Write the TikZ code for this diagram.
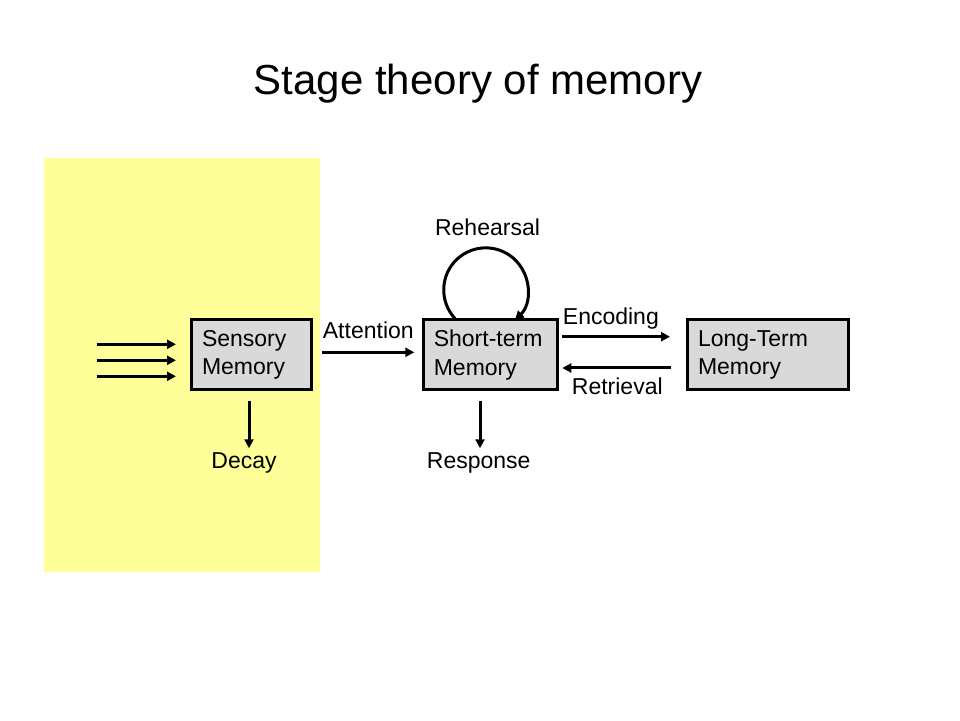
\documentclass[tikz,border=0pt]{standalone}
\usepackage{fontspec}
\setmainfont{Liberation Sans}
\usetikzlibrary{arrows.meta}
\definecolor{bgyellow}{RGB}{255,255,153}
\definecolor{boxgray}{RGB}{217,217,217}
\tikzset{
  membox/.style={draw=black, line width=3pt, fill=boxgray, inner xsep=11pt, inner ysep=0pt,
    minimum height=70pt, align=left, font=\fontsize{23}{28.5}\selectfont},
  lbl/.style={inner sep=0pt, font=\fontsize{23}{28}\selectfont},
  arr/.style={line width=3pt, -{Triangle[length=9pt,width=9pt]}}
}
\begin{document}
\begin{tikzpicture}[x=1pt,y=1pt]
\useasboundingbox (0,0) rectangle (960,720);
\fill[white] (0,0) rectangle (960,720);
% yellow panel
\fill[bgyellow] (44,148) rectangle (320,562);
% title
\node[inner sep=0pt, anchor=base, font=\fontsize{42}{48}\selectfont] (title) at (478,625) {Stage theory of memory};
% boxes
\node[membox, minimum width=120pt, text width=98pt] (sm) at (251,365) {Sensory\\Memory};
\node[membox, minimum width=134pt, text width=112pt, inner xsep=10pt, text width=114pt] (st) at (490.8,365) {Short-term\\Memory};
\node[membox, minimum width=161pt, text width=139pt] (lt) at (767.5,365) {Long-Term\\Memory};
% labels
\node[lbl, anchor=base] (decay) at (244,251.7) {Decay};
\node[lbl, anchor=base] (resp) at (478.7,251.7) {Response};
\node[lbl, anchor=base] (reh) at (487.5,484.3) {Rehearsal};
\node[lbl, anchor=base west] (att) at (322.7,381.7) {Attention};
\node[lbl, anchor=base west] (enc) at (562.7,395.7) {Encoding};
\node[lbl, anchor=base west] (ret) at (571.7,325) {Retrieval};
% input arrows
\coordinate (i1a) at (96.7,375.7); \coordinate (i1b) at (176,375.7);
\coordinate (i2a) at (96.7,359.7); \coordinate (i2b) at (176,359.7);
\coordinate (i3a) at (96.7,343.7); \coordinate (i3b) at (176,343.7);
\draw[arr] (i1a) -- (i1b);
\draw[arr] (i2a) -- (i2b);
\draw[arr] (i3a) -- (i3b);
% connectors
\draw[arr, shorten <=9.7pt, shorten >=8pt] ([yshift=2.7pt]sm.east) -- ([yshift=2.7pt]st.west);
\draw[arr, shorten <=3pt, shorten >=15.5pt] ([yshift=18.3pt]st.east) -- ([yshift=18.3pt]lt.west);
\draw[arr, shorten <=14.3pt, shorten >=3pt] ([yshift=-13pt]lt.west) -- ([yshift=-13pt]st.east);
\draw[arr, shorten <=10pt, shorten >=4pt] ([xshift=-2pt]sm.south) -- ([xshift=-2pt]sm.south |- decay.north);
\draw[arr, shorten <=10pt, shorten >=4pt] ([xshift=-10.8pt]st.south) -- ([xshift=-10.8pt]st.south |- resp.north);
% rehearsal loop
\draw[arr] ([xshift=-35.8pt]st.north) arc[start angle=223, end angle=-46, radius=42pt];
\end{tikzpicture}
\end{document}
